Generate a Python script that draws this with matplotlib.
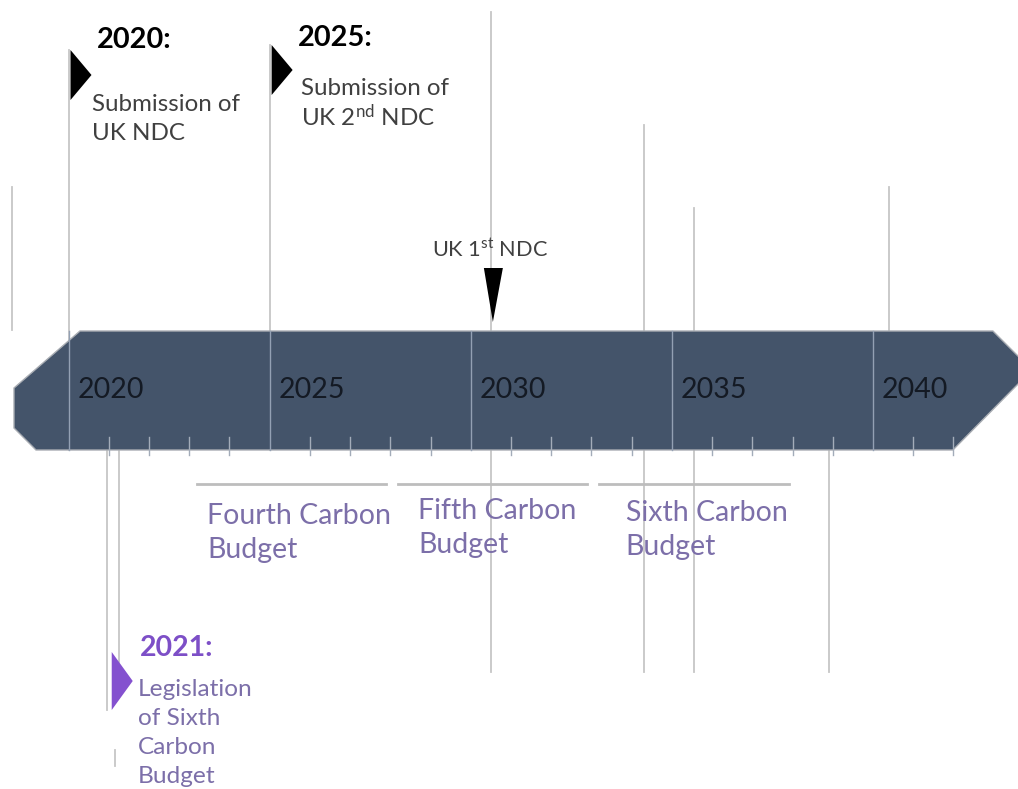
import matplotlib.pyplot as plt
from matplotlib.patches import Polygon

plt.rcParams['font.family'] = ['Lato', 'DejaVu Sans']
plt.rcParams['mathtext.fontset'] = 'custom'
plt.rcParams['mathtext.rm'] = 'Lato'
plt.rcParams['mathtext.it'] = 'Lato:italic'
plt.rcParams['mathtext.bf'] = 'Lato:bold'

# ---- datos de la linea de tiempo ----
major_years = [2020, 2025, 2030, 2035, 2040]
minor_years = [y for y in range(2021, 2043) if y % 5 != 0]

# hitos con bandera (anio, titulo, texto)
flag_years = [2020, 2025, 2021]
flag_titles = ["2020:", "2025:", "2021:"]
flag_texts = [
    ["Submission of", "UK NDC"],
    ["Submission of", r"UK 2$^{\mathrm{nd}}$ NDC"],
    ["Legislation", "of Sixth", "Carbon", "Budget"],
]

ndc_year = 2030.55
ndc_label = r"UK 1$^{\mathrm{st}}$ NDC"

budget_names = [["Fourth Carbon", "Budget"], ["Fifth Carbon", "Budget"], ["Sixth Carbon", "Budget"]]
budget_start = [2023, 2028, 2033]
budget_end = [2027, 2032, 2037]

# lineas guia grises (anio, y arriba, y abajo)
guide_years = [2018.6, 2030.5, 2034.3, 2035.55, 2038.9, 2040.4, 2020.96, 2021.26, 2021.16]
guide_top = [187, 12, 125, 208, 450, 187, 450, 450, 750]
guide_bottom = [330, 672, 672, 672, 672, 330, 710, 662, 766]

# ---- estilo ----
BAR = '#44546A'
GRID = '#c6c6c6'
TXT = '#404040'
PURPLE_TXT = '#7c6fa9'
PURPLE = '#8451cf'

px_per_year = 40.225
x0 = 2020 - 68.5 / px_per_year
x1 = x0 + 1018 / px_per_year

fig = plt.figure(figsize=(10.18, 7.89), dpi=100)
ax = fig.add_axes([0, 0, 1, 1])
ax.set_xlim(x0, x1)
ax.set_ylim(789, 0)
ax.axis('off')

def px(n):
    # ancho horizontal en pixeles -> anios
    return n / px_per_year

# lineas guia (detras de la barra)
for yr, t, b in zip(guide_years, guide_top, guide_bottom):
    ax.plot([yr, yr], [t, b], color=GRID, lw=1.3, zorder=1)

# postes de las banderas de arriba
ax.plot([2020, 2020], [50, 450], color=GRID, lw=1.3, zorder=1)
ax.plot([2025, 2025], [45, 450], color=GRID, lw=1.3, zorder=1)

# barra principal
top, bot = 331, 450
start, end = 2018.645, 2043.95
bar = Polygon([
    (start + px(66), top), (end - px(39), top), (end, 370),
    (end - px(79), bot), (start + px(22), bot), (start, 428), (start, 388)
], closed=True, facecolor=BAR, edgecolor='#a9adb3', lw=1, zorder=2)
ax.add_patch(bar)

for yr in major_years:
    ax.plot([yr, yr], [top, bot], color='#93a0b3', lw=1, zorder=3)
    ax.text(yr + px(9), 390, str(yr), fontsize=20.5, color='#141a24',
            va='center', ha='left', zorder=4)
for yr in minor_years:
    ax.plot([yr, yr], [437, 455], color='#a3acb9', lw=1, zorder=3)

# banderas
tri_h = [50, 50, 58]
tri_top = [50, 45, 652]
title_y = [40, 38, 648]
title_x = [px(28), px(28), px(31)]
text_y0 = [104, 88, 690]
text_x = [px(24), px(31), px(29)]
pitch = [29, 29, 28.7]
tri_col = ['black', 'black', PURPLE]
title_col = ['black', 'black', '#7d4fc7']
text_col = [TXT, TXT, PURPLE_TXT]
title_size = [20.8, 20.8, 20.5]
text_size = [17.4, 17.4, 17.6]
for i, yr in enumerate(flag_years):
    bx = yr + px(2) if i < 2 else yr + px(3)
    t0 = tri_top[i]
    h = tri_h[i]
    ax.add_patch(Polygon([(bx, t0), (bx + px(21), t0 + h / 2), (bx, t0 + h)],
                         closed=True, facecolor=tri_col[i], edgecolor='none', zorder=5))
    ax.text(yr + title_x[i], title_y[i], flag_titles[i], fontsize=title_size[i],
            fontweight='bold', color=title_col[i], va='center', ha='left')
    for k, line in enumerate(flag_texts[i]):
        ax.text(yr + text_x[i], text_y0[i] + k * pitch[i], line, fontsize=text_size[i],
                color=text_col[i], va='center', ha='left')

# flecha del primer NDC
ax.add_patch(Polygon([(ndc_year - px(9), 268), (ndc_year + px(10), 268), (ndc_year, 322)],
                     closed=True, facecolor='black', edgecolor='none', zorder=5))
ax.text(ndc_year - px(3), 250, ndc_label, fontsize=15.7, color=TXT, va='center', ha='center')

# presupuestos de carbono
label_dx = [0.25, 0.49, 0.65]
label_y = [516, 511, 513]
for i, name in enumerate(budget_names):
    s = budget_start[i] + 0.2
    e = budget_end[i] + 0.9
    ax.plot([s, e], [484, 484], color='#bdbdbd', lw=2, zorder=1)
    for k, line in enumerate(name):
        ax.text(s + label_dx[i], label_y[i] + k * 34, line, fontsize=20.5,
                color=PURPLE_TXT, va='center', ha='left')

fig.savefig('out.png', dpi=100)
